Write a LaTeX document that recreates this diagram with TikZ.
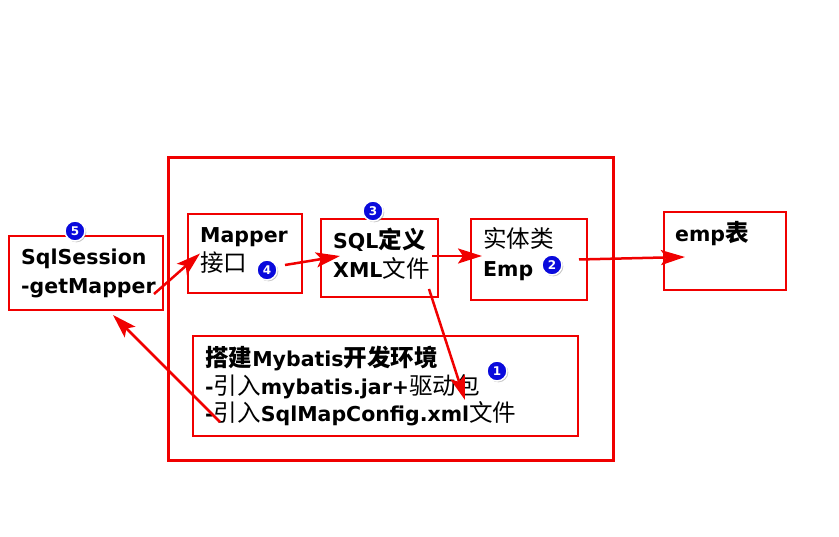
\documentclass[tikz,border=0pt]{standalone}
\usepackage{fontspec}
\setmainfont{DejaVu Sans}
\newfontfamily\cjk[Scale=1.15]{Noto Sans CJK SC}
\usetikzlibrary{arrows.meta,shadows}
\definecolor{lred}{RGB}{240,0,0}
\definecolor{bblue}{RGB}{10,10,220}
\begin{document}
\begin{tikzpicture}[x=1pt,y=-1pt,
  frame/.style={draw=lred,line width=2pt,inner sep=0pt,anchor=north west},
  txt/.style={anchor=base west,inner sep=0pt,align=left,font=\bfseries\fontsize{20.5}{29}\selectfont},
  badge/.style={circle,fill=bblue,draw=white,line width=1.5pt,minimum size=20pt,inner sep=0pt,text=white,
    font=\bfseries\fontsize{12}{12}\selectfont,drop shadow={shadow xshift=1.3pt,shadow yshift=-1.3pt,opacity=0.45}},
  arr/.style={draw=lred,line width=2.5pt,-{Stealth[length=24pt,width=15pt,inset=5pt]}}]
\useasboundingbox (0,0) rectangle (839,537);
% outer frame
\node[frame,line width=3pt,minimum width=445pt,minimum height=303pt] (outer) at (167,156) {};
% boxes
\node[frame,minimum width=154pt,minimum height=74pt] (sess) at (8,235) {};
\node[frame,minimum width=114pt,minimum height=79pt] (mapper) at (187,213) {};
\node[frame,minimum width=117pt,minimum height=78pt] (sql) at (320,218) {};
\node[frame,minimum width=116pt,minimum height=81pt] (ent) at (470,218) {};
\node[frame,minimum width=122pt,minimum height=78pt] (emp) at (663,211) {};
\node[frame,minimum width=385pt,minimum height=100pt] (setup) at (192,335) {};
% texts (anchor = baseline of the last line)
\node[txt] (tsess) at (21,294) {SqlSession\\-getMapper};
\node[txt] (tmapper) at (200,272) {Mapper\\{\cjk\mdseries 接口}};
\node[txt] (tsql) at (333,278) {SQL{\cjk 定义}\\XML{\cjk\mdseries 文件}};
\node[txt] (tent) at (483,277) {{\cjk\mdseries 实体类}\\Emp};
\node[txt] (temp) at (675,242) {emp{\cjk 表}};
\node[txt,font=\bfseries\fontsize{20.5}{27.5}\selectfont] (tsetup) at (205,422)
  {{\cjk 搭建}Mybatis{\cjk 开发环境}\\-{\cjk\mdseries 引入}mybatis.jar+{\cjk\mdseries 驱动包}\\-{\cjk\mdseries 引入}SqlMapConfig.xml{\cjk\mdseries 文件}};
% arrows
\draw[arr] ([xshift=-10pt,yshift=17pt]sess.south east) -- ([xshift=13pt]mapper.west);
\draw[arr] ([xshift=-18pt,yshift=-11.5pt]mapper.east) -- ([xshift=20pt,yshift=2pt]sql.west);
\draw[arr] ([xshift=-7pt,yshift=2pt]sql.east) -- ([xshift=12pt,yshift=3.5pt]ent.west);
\draw[arr] ([xshift=-9pt]ent.east) -- ([xshift=22pt,yshift=-6pt]emp.west);
\draw[arr] ([xshift=-10pt,yshift=9pt]sql.south east) -- ([xshift=-114pt,yshift=37pt]setup.south east);
\draw[arr] ([xshift=28pt,yshift=15pt]setup.south west) -- ([xshift=27pt,yshift=-4pt]sess.south);
% badges
\node[badge] (b5) at (75,231) {5};
\node[badge] (b4) at (267,270) {4};
\node[badge] (b3) at (373,211) {3};
\node[badge] (b2) at (552,265) {2};
\node[badge] (b1) at (497,371) {1};
\end{tikzpicture}
\end{document}
